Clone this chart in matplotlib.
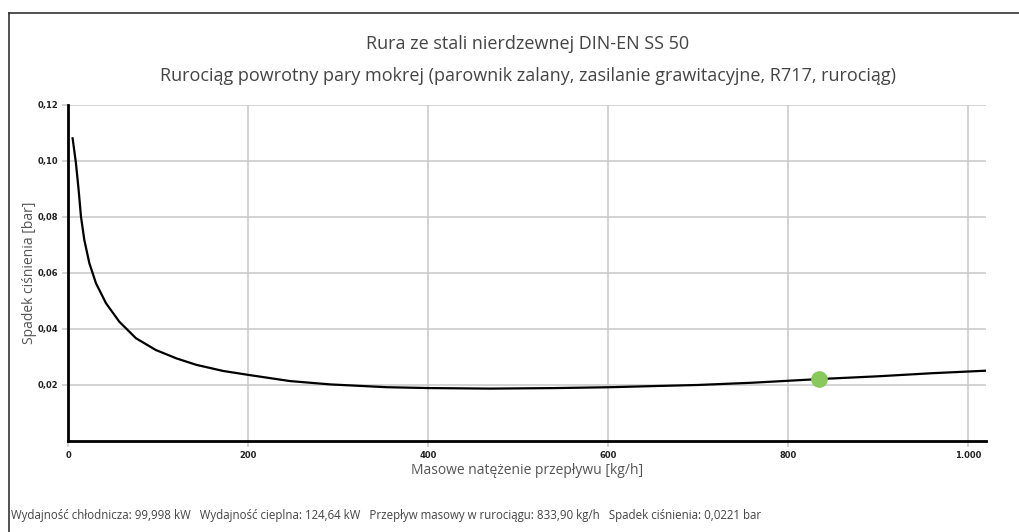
import matplotlib.pyplot as plt
from matplotlib.ticker import FuncFormatter
from matplotlib.lines import Line2D

plt.rcParams['font.family'] = ['Open Sans', 'DejaVu Sans']

# pressure drop curve
mass_flow = [4.6, 8.3, 11.3, 13.9, 17.6, 23.2, 30.6, 41.7, 56.5, 75, 97, 120, 142,
             172, 200, 246, 291, 354, 400, 469, 543, 602, 650, 700, 760, 800,
             834, 900, 960, 1020]
pressure_drop = [0.1081, 0.0992, 0.0896, 0.0801, 0.0718, 0.0635, 0.0563, 0.0492,
                 0.0426, 0.0367, 0.0325, 0.0295, 0.0272, 0.0250, 0.0236, 0.0214,
                 0.0202, 0.0192, 0.0189, 0.0187, 0.0189, 0.0192, 0.0196, 0.0200,
                 0.0208, 0.0215, 0.0221, 0.0231, 0.0242, 0.0251]

# operating point
op_flow = 833.9
op_drop = 0.0221

x_ticks = [0, 200, 400, 600, 800, 1000]
y_ticks = [0.02, 0.04, 0.06, 0.08, 0.10, 0.12]

title1 = 'Rura ze stali nierdzewnej DIN-EN SS 50'
title2 = 'Rurociąg powrotny pary mokrej (parownik zalany, zasilanie grawitacyjne, R717, rurociąg)'
footer = ('Wydajność chłodnicza: 99,998 kW   Wydajność cieplna: 124,64 kW   '
          'Przepływ masowy w rurociągu: 833,90 kg/h   Spadek ciśnienia: 0,0221 bar')

fig = plt.figure(figsize=(10.19, 5.32), dpi=100)
ax = fig.add_axes([0.0672, 0.1711, 0.9004, 0.6316])

ax.plot(mass_flow, pressure_drop, color='black', lw=1.6, zorder=3)
ax.plot([op_flow], [op_drop], 'o', color='#88c95a', ms=11, zorder=4)

ax.set_xlim(0, 1020)
ax.set_ylim(0, 0.12)
ax.set_xticks(x_ticks)
ax.set_yticks(y_ticks)
ax.xaxis.set_major_formatter(FuncFormatter(lambda v, p: f'{int(v):,}'.replace(',', '.')))
ax.yaxis.set_major_formatter(FuncFormatter(lambda v, p: f'{v:.2f}'.replace('.', ',')))
ax.grid(True, color='#c8c8c8', lw=1.1)
ax.set_axisbelow(True)
ax.tick_params(axis='both', length=4, color='#c8c8c8', labelsize=6, width=1.1,
               labelcolor='#222222')
for lab in ax.get_xticklabels() + ax.get_yticklabels():
    lab.set_fontfamily('DejaVu Sans')
    lab.set_fontweight('bold')

for s in ['top', 'right']:
    ax.spines[s].set_visible(False)
for s in ['left', 'bottom']:
    ax.spines[s].set_linewidth(2)
    ax.spines[s].set_color('black')

ax.set_xlabel('Masowe natężenie przepływu [kg/h]', fontsize=10, color='#555555', labelpad=2)
ax.set_ylabel('Spadek ciśnienia [bar]', fontsize=10, color='#555555', labelpad=0)

fig.text(0.518, 0.917, title1, ha='center', va='center', fontsize=13, color='#444444')
fig.text(0.518, 0.857, title2, ha='center', va='center', fontsize=13, color='#444444')
fig.text(0.011, 0.031, footer, ha='left', va='center', fontsize=8.3, color='#444444')

# frame lines on top and left of the figure
fig.add_artist(Line2D([9 / 1019, 1], [1 - 12.5 / 532] * 2, color='#333333', lw=1.2,
                      transform=fig.transFigure))
fig.add_artist(Line2D([9 / 1019] * 2, [0, 1 - 12.5 / 532], color='#333333', lw=1.2,
                      transform=fig.transFigure))

fig.savefig('out.png', dpi=100)
